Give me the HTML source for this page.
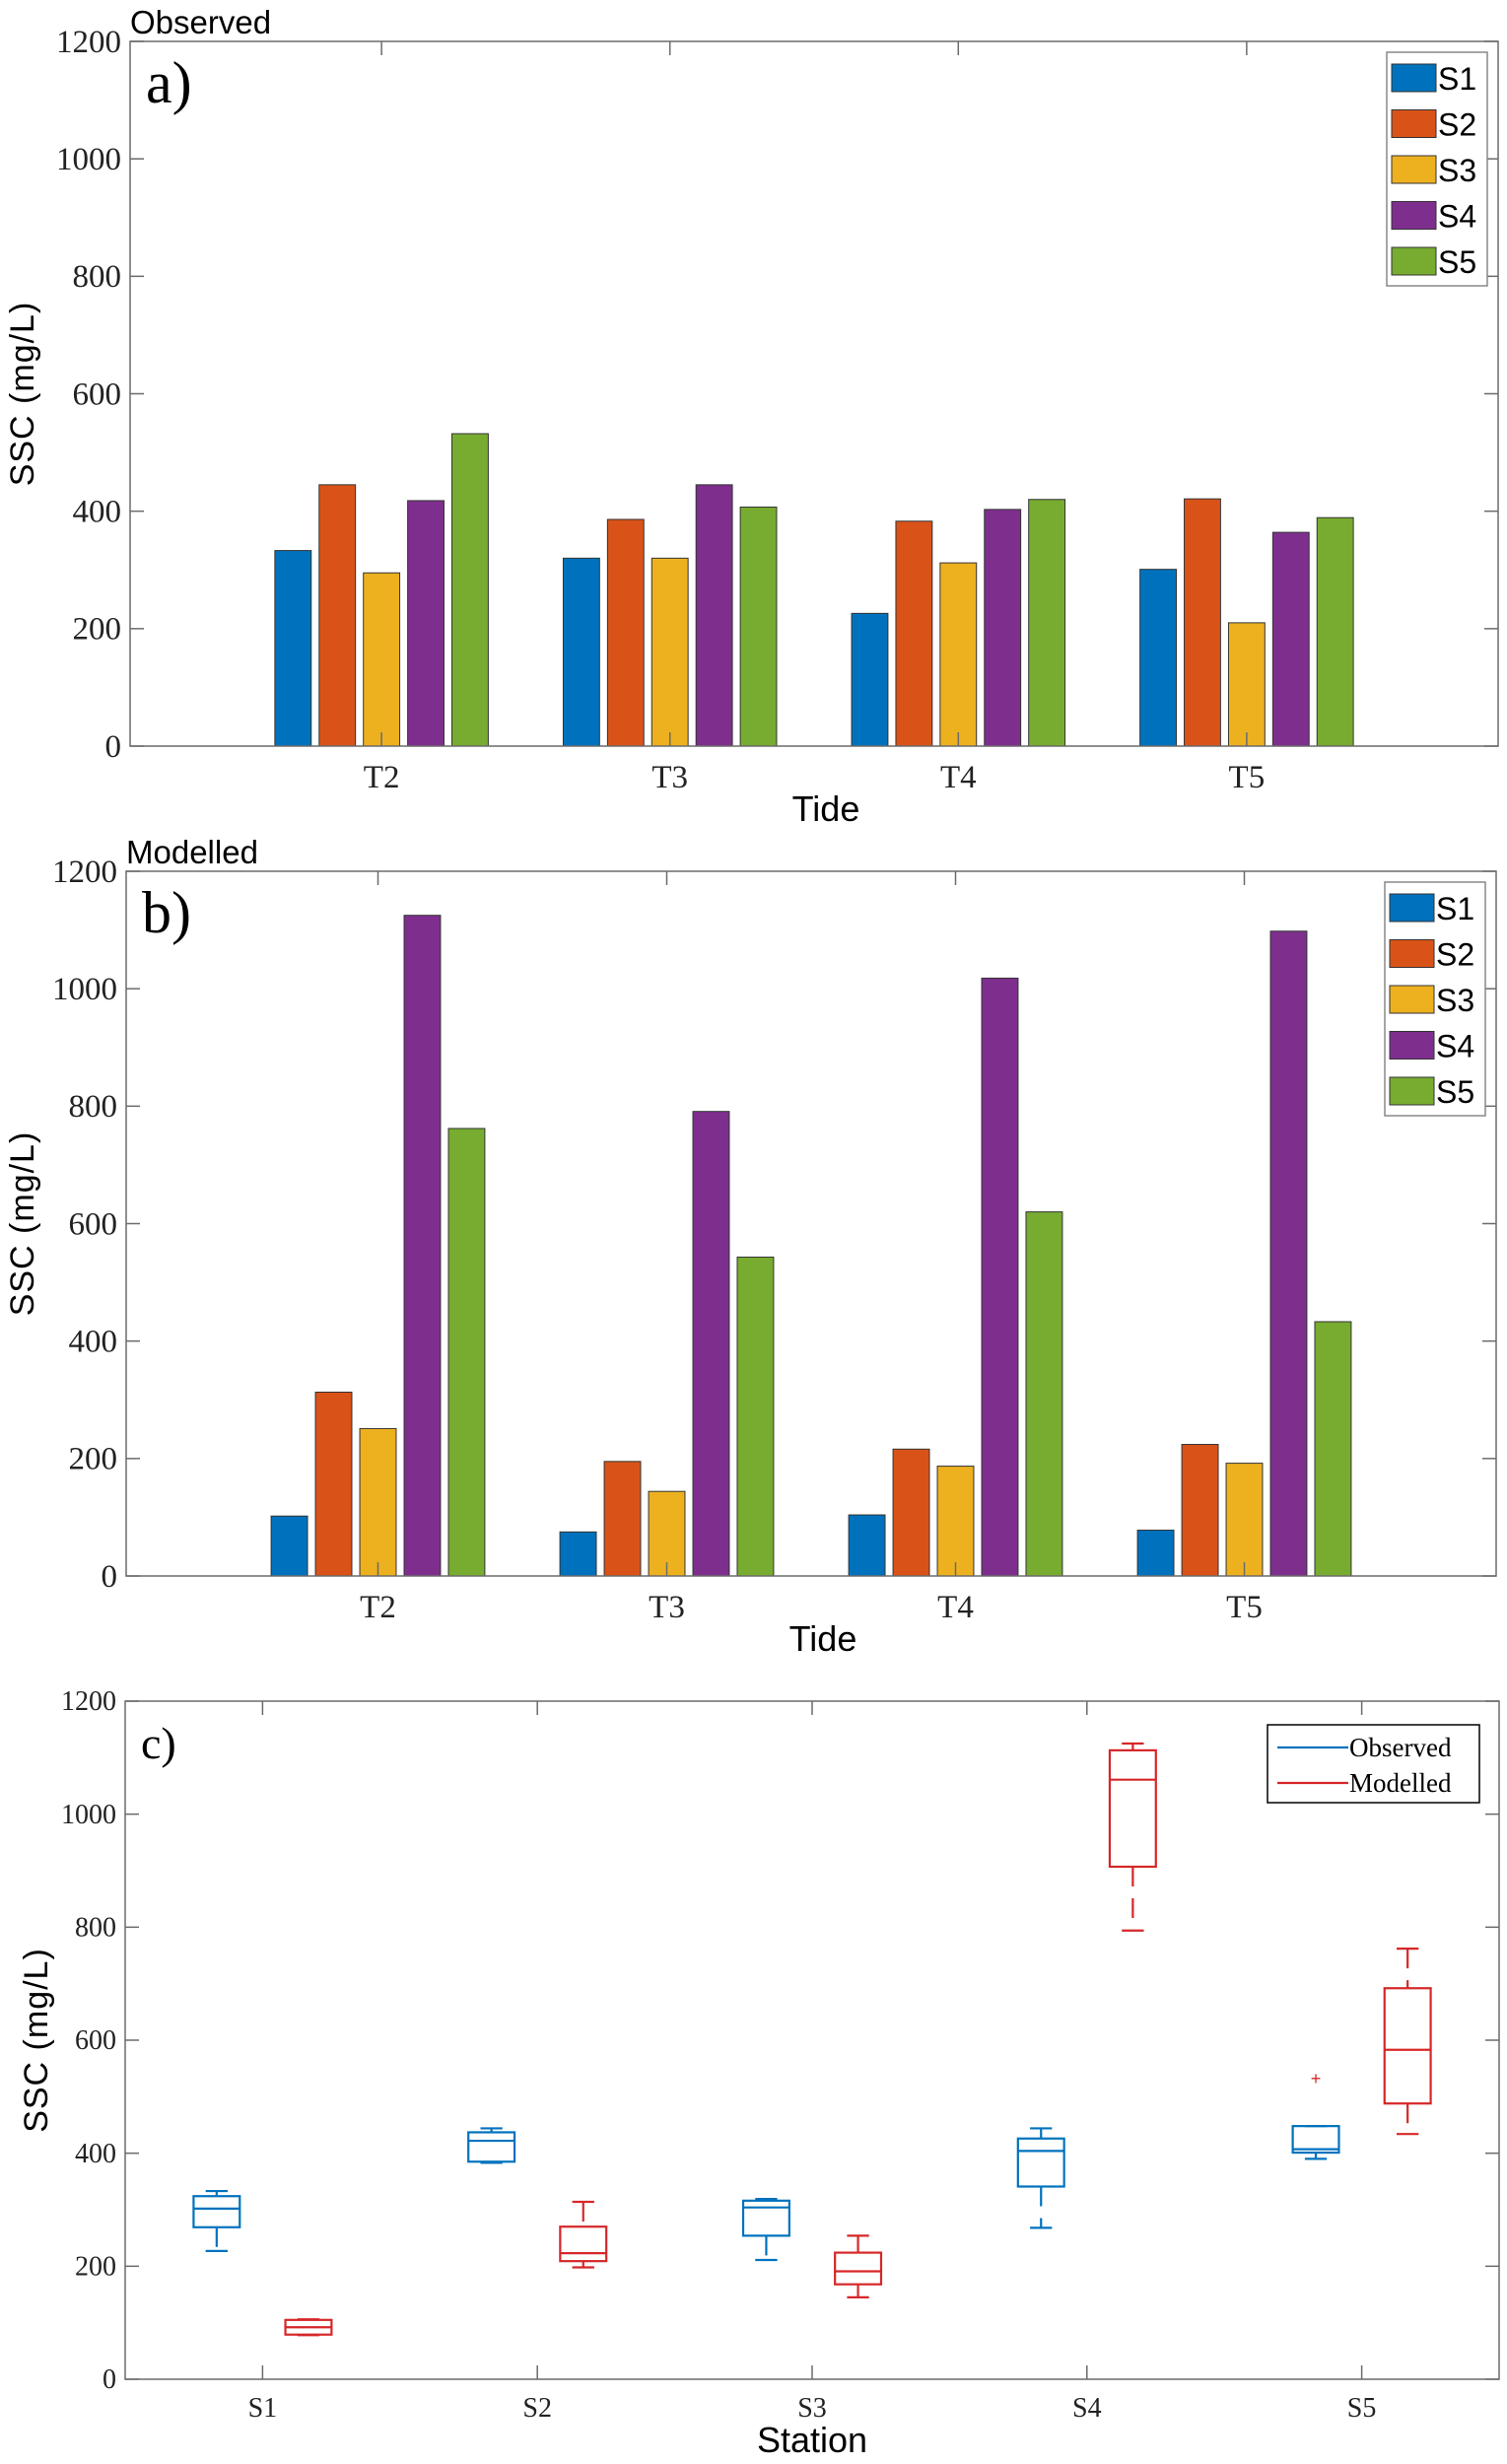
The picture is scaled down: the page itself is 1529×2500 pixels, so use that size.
<!DOCTYPE html>
<html><head><meta charset="utf-8"><style>
html,body{margin:0;padding:0;background:#fff;}
svg{display:block;}
.tk{font-family:"Liberation Serif",serif;fill:#222;}
.sans{font-family:"Liberation Sans",sans-serif;fill:#000;}
</style></head><body>
<svg id="fig" width="1529" height="2500" viewBox="0 0 1529 2500" xmlns="http://www.w3.org/2000/svg"></svg>
<script>
// ---- data ----
const tides = ["T2","T3","T4","T5"];
const stations = ["S1","S2","S3","S4","S5"];
const yTicks = [0,200,400,600,800,1000,1200];
// observed per station, across tides T2..T5
const obsS1 = [333,320,226,301];
const obsS2 = [445,386,383,421];
const obsS3 = [295,320,312,210];
const obsS4 = [418,445,403,364];
const obsS5 = [532,407,420,389];
// modelled per station
const modS1 = [102,75,104,78];
const modS2 = [313,195,216,224];
const modS3 = [251,144,187,192];
const modS4 = [1125,791,1018,1098];
const modS5 = [762,543,620,433];
// boxplot stats [min,q1,median,q3,max] per station
const boxObsMin = [227,383,211,268,390];
const boxObsQ1  = [269,385,254,341,401];
const boxObsMed = [302,422,304,404,407];
const boxObsQ3  = [324,437,316,426,448];
const boxObsMax = [333,444,319,444,448];
const boxObsOut = [null,null,null,null,532];
const boxModMin = [78,198,145,794,434];
const boxModQ1  = [79,209,168,907,488];
const boxModMed = [92,223,191,1061,583];
const boxModQ3  = [105,270,224,1113,692];
const boxModMax = [106,314,254,1125,762];

const colors = ["#0072BD","#D95319","#EDB120","#7E2F8E","#77AC30"];
const NS="http://www.w3.org/2000/svg";
const svg=document.getElementById('fig');
function el(tag,attrs,parent,text){const e=document.createElementNS(NS,tag);for(const k in attrs)e.setAttribute(k,attrs[k]);if(text!==undefined)e.textContent=text;(parent||svg).appendChild(e);return e;}

function axesFrame(g,L,T,R,B,yScale,xTickPos,xLabels,tickSize,tickY){
  el('rect',{x:L,y:T,width:R-L,height:B-T,fill:'none',stroke:'#6b6b6b','stroke-width':1.5},g);
  yTicks.forEach(v=>{
    const y=yScale(v);
    el('line',{x1:L,x2:L+14,y1:y,y2:y,stroke:'#6b6b6b','stroke-width':1.5},g);
    el('line',{x1:R,x2:R-14,y1:y,y2:y,stroke:'#6b6b6b','stroke-width':1.5},g);
    const t=el('text',{x:L-9,y:y+tickSize*0.33,'text-anchor':'end',class:'tk',style:'font-size:'+tickSize+'px'},g,String(v));
    
    
  });
  xTickPos.forEach((x,i)=>{
    el('line',{x1:x,x2:x,y1:B,y2:B-14,stroke:'#6b6b6b','stroke-width':1.5},g);
    el('line',{x1:x,x2:x,y1:T,y2:T+14,stroke:'#6b6b6b','stroke-width':1.5},g);
    const t=el('text',{x:x,y:tickY,'text-anchor':'middle',class:'tk',style:'font-size:'+tickSize+'px'},g,xLabels[i]);
    
    
  });
}

function barPanel(name,L,T,R,B,series,title,letter){
  const g=el('g',{});
  
  
  const xMin=0.128,xMax=4.872;
  const xs=c=>L+(c-xMin)/(xMax-xMin)*(R-L);
  const ys=v=>B-v/1200*(B-T);
  const step=(xs(2)-xs(1));
  const off=0.1535*step, bw=0.126*step;
  tides.forEach((td,i)=>{
    series.forEach((arr,s)=>{
      const cx=xs(i+1)+(s-2)*off;
      const r=el('rect',{x:cx-bw/2,y:ys(arr[i]),width:bw,height:ys(0)-ys(arr[i]),fill:colors[s],stroke:'#333','stroke-width':1},g);
      
      
    });
  });
  axesFrame(g,L,T,R,B,ys,tides.map((t,i)=>xs(i+1)),tides,33,B+42);
  const tt=el('text',{x:L,y:T-8,class:'sans',style:'font-size:33px'},g,title);
  
  
  const lt=el('text',{x:L+16,y:T+62,class:'tk',style:'font-size:60px;fill:#000'},g,letter);
  
  
  const yl=el('text',{x:0,y:0,class:'sans','text-anchor':'middle',style:'font-size:34px;letter-spacing:1px',transform:`translate(34,${(T+B)/2}) rotate(-90)`},g,'SSC (mg/L)');
  
  
  const xl=el('text',{x:(L+R)/2+12,y:B+76,class:'sans','text-anchor':'middle',style:'font-size:36px'},g,'Tide');
  
  
  // legend
  const lg=el('g',{},g);
  
  
  const lx=R-113, ly=T+11;
  el('rect',{x:lx,y:ly,width:102,height:237,fill:'#fff',stroke:'#888','stroke-width':1.5},lg);
  stations.forEach((s,i)=>{
    const e=el('g',{},lg);
    
    
    el('rect',{x:lx+5,y:ly+12+i*46.5,width:45,height:28,fill:colors[i],stroke:'#333','stroke-width':1},e);
    el('text',{x:lx+52,y:ly+38+i*46.5,class:'sans',style:'font-size:32px'},e,s);
  });
}

barPanel('panel-a-observed',132,42,1520,757,[obsS1,obsS2,obsS3,obsS4,obsS5],'Observed','a)');
barPanel('panel-b-modelled',128,884,1518,1599,[modS1,modS2,modS3,modS4,modS5],'Modelled','b)');

// ---- panel c boxplots ----
(function(){
  const L=127,T=1726,R=1521,B=2414;
  const g=el('g',{});
  
  
  const xs=c=>L+(c-0.5)/5*(R-L);
  const ys=v=>B-v/1200*(B-T);
  const step=xs(2)-xs(1);
  const off=0.167*step, bw=0.168*step, cw=0.08*step;
  function box(i,min,q1,med,q3,max,col,side,name){
    const bg=el('g',{},g);
    
    
    const cx=xs(i+1)+side*off;
    const st={stroke:col,'stroke-width':2.2,fill:'none'};
    el('line',Object.assign({x1:cx,x2:cx,y1:ys(max),y2:ys(q3),'stroke-dasharray':'20,12'},st),bg);
    el('line',Object.assign({x1:cx,x2:cx,y1:ys(q1),y2:ys(min),'stroke-dasharray':'20,12'},st),bg);
    el('line',Object.assign({x1:cx-cw/2,x2:cx+cw/2,y1:ys(max),y2:ys(max)},st),bg);
    el('line',Object.assign({x1:cx-cw/2,x2:cx+cw/2,y1:ys(min),y2:ys(min)},st),bg);
    el('rect',Object.assign({x:cx-bw/2,y:ys(q3),width:bw,height:ys(q1)-ys(q3)},st),bg);
    el('line',Object.assign({x1:cx-bw/2,x2:cx+bw/2,y1:ys(med),y2:ys(med)},st),bg);
  }
  stations.forEach((s,i)=>{
    box(i,boxObsMin[i],boxObsQ1[i],boxObsMed[i],boxObsQ3[i],boxObsMax[i],'#0072BD',-1,'box-observed-'+s.toLowerCase());
    box(i,boxModMin[i],boxModQ1[i],boxModMed[i],boxModQ3[i],boxModMax[i],'#D62728',1,'box-modelled-'+s.toLowerCase());
    if(boxObsOut[i]!==null){
      const o=el('text',{x:xs(i+1)-off,y:ys(boxObsOut[i])+6,'text-anchor':'middle',style:'font-size:18px;fill:#D62728;font-family:Liberation Sans,sans-serif'},g,'+');
      
      
    }
  });
  axesFrame(g,L,T,R,B,ys,stations.map((s,i)=>xs(i+1)),stations,28,B+38);
  const lt=el('text',{x:L+16,y:T+58,class:'tk',style:'font-size:46px;fill:#000'},g,'c)');
  
  
  const yl=el('text',{x:0,y:0,class:'sans','text-anchor':'middle',style:'font-size:34px;letter-spacing:1px',transform:`translate(48,${(T+B)/2}) rotate(-90)`},g,'SSC (mg/L)');
  
  
  const xl=el('text',{x:(L+R)/2,y:B+74,class:'sans','text-anchor':'middle',style:'font-size:36px'},g,'Station');
  
  
  const lg=el('g',{},g);
  
  
  el('rect',{x:1286,y:1750,width:215,height:79,fill:'#fff',stroke:'#000','stroke-width':1.5},lg);
  const e1=el('g',{},lg);
  
  
  el('line',{x1:1296,x2:1368,y1:1773,y2:1773,stroke:'#0072BD','stroke-width':2.2},e1);
  el('text',{x:1369,y:1782,class:'tk',style:'font-size:27px;fill:#000'},e1,'Observed');
  const e2=el('g',{},lg);
  
  
  el('line',{x1:1296,x2:1368,y1:1809,y2:1809,stroke:'#D62728','stroke-width':2.2},e2);
  el('text',{x:1369,y:1818,class:'tk',style:'font-size:27px;fill:#000'},e2,'Modelled');
})();
</script>
</body></html>
